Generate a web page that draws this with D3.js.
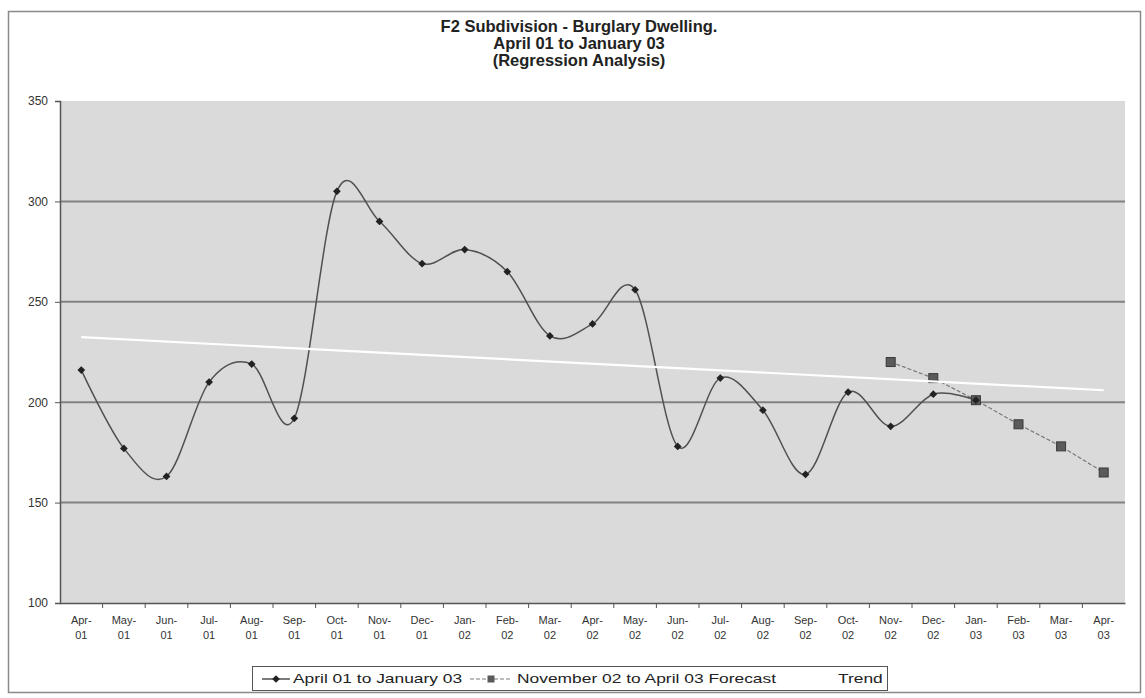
<!DOCTYPE html>
<html>
<head>
<meta charset="utf-8">
<script src="https://cdn.jsdelivr.net/npm/d3@7"></script>
<style>
  html, body { margin: 0; padding: 0; background: #fff; }
  svg { display: block; font-family: "Liberation Sans", Arial, sans-serif; }
</style>
</head>
<body>
<svg id="chart" width="1145" height="698"></svg>
<script>
// Monthly categories, April 2001 – April 2003
const categories = [
  "Apr-01","May-01","Jun-01","Jul-01","Aug-01","Sep-01","Oct-01","Nov-01","Dec-01",
  "Jan-02","Feb-02","Mar-02","Apr-02","May-02","Jun-02","Jul-02","Aug-02","Sep-02",
  "Oct-02","Nov-02","Dec-02","Jan-03","Feb-03","Mar-03","Apr-03"
];

// Recorded burglary dwelling offences, April 01 to January 03
const actualValues = [216,177,163,210,219,192,305,290,269,276,265,233,239,256,178,212,196,164,205,188,204,201];

// Forecast, November 02 to April 03
const forecastStart = "Nov-02";
const forecastValues = [220,212,201,189,178,165];

const yTicks = [100,150,200,250,300,350];

const titleLines = [
  "F2 Subdivision - Burglary Dwelling.",
  "April 01 to January 03",
  "(Regression Analysis)"
];
const legendLabels = ["April 01 to January 03", "November 02 to April 03 Forecast", "Trend"];

// ---------------------------------------------------------------
const svg = d3.select("#chart");
const plot = { left: 60, right: 1125, top: 101, bottom: 603 };
const FONT = "'Liberation Sans', Arial, sans-serif";

const x = d3.scaleBand().domain(categories).range([plot.left, plot.right]).padding(0);
const cx = c => x(c) + x.bandwidth() / 2;
const y = d3.scaleLinear().domain([100, 350]).range([plot.bottom, plot.top]);

// outer chart frame
svg.append("rect")
  .attr("x", 8.5).attr("y", 11.5)
  .attr("width", 1132).attr("height", 681)
  .attr("fill", "#fff").attr("stroke", "#8a8a8a").attr("stroke-width", 1.5);

// title
const title = svg.append("text")
  .attr("x", 579).attr("y", 32)
  .attr("text-anchor", "middle")
  .attr("font-size", 16.5).attr("font-weight", "bold").attr("fill", "#222");
titleLines.forEach((t, i) => {
  title.append("tspan").attr("x", 579).attr("dy", i === 0 ? 0 : 17).text(t);
});

// plot background
svg.append("rect")
  .attr("x", plot.left).attr("y", plot.top)
  .attr("width", plot.right - plot.left).attr("height", plot.bottom - plot.top)
  .attr("fill", "#dadada");

// horizontal gridlines
svg.append("g")
  .selectAll("line")
  .data(yTicks.filter(v => v > 100 && v < 350))
  .join("line")
  .attr("x1", plot.left).attr("x2", plot.right)
  .attr("y1", d => y(d)).attr("y2", d => y(d))
  .attr("stroke", "#828282").attr("stroke-width", 2);

// y axis
const yAxis = svg.append("g")
  .attr("transform", `translate(${plot.left},0)`)
  .call(d3.axisLeft(y).tickValues(yTicks).tickSize(5).tickPadding(7).tickFormat(d3.format("d")));
yAxis.select(".domain").attr("stroke", "#555").attr("stroke-width", 1.5);
yAxis.selectAll(".tick line").attr("stroke", "#555");
yAxis.selectAll(".tick text").attr("font-size", 12).attr("fill", "#333").attr("font-family", FONT);

// x axis: ticks between categories, two-line labels
const xAxis = svg.append("g")
  .attr("transform", `translate(0,${plot.bottom})`)
  .call(d3.axisBottom(x).tickSize(0).tickPadding(13));
xAxis.select(".domain").attr("stroke", "#555").attr("stroke-width", 1.5);
xAxis.selectAll(".tick text").each(function(d) {
  const [m, yr] = d.split("-");
  const t = d3.select(this).text(null)
    .attr("font-size", 11).attr("fill", "#333").attr("font-family", FONT);
  t.append("tspan").attr("x", 0).attr("dy", "0.71em").text(m + "-");
  t.append("tspan").attr("x", 0).attr("dy", "1.4em").text(yr);
});
xAxis.append("g").selectAll("line")
  .data(categories.slice(1))
  .join("line")
  .attr("x1", d => x(d)).attr("x2", d => x(d))
  .attr("y1", 0).attr("y2", 5)
  .attr("stroke", "#555");

// forecast series (dashed, square markers)
const forecastIdx = categories.indexOf(forecastStart);
const forecastPts = forecastValues.map((v, i) => ({ c: categories[forecastIdx + i], v }));
svg.append("path")
  .datum(forecastPts)
  .attr("fill", "none").attr("stroke", "#7a7a7a").attr("stroke-width", 1.2)
  .attr("stroke-dasharray", "4,2")
  .attr("d", d3.line().x(d => cx(d.c)).y(d => y(d.v)));

// actual series (smoothed)
const actualPts = actualValues.map((v, i) => ({ c: categories[i], v }));
svg.append("path")
  .datum(actualPts)
  .attr("fill", "none").attr("stroke", "#505050").attr("stroke-width", 1.5)
  .attr("d", d3.line().x(d => cx(d.c)).y(d => y(d.v)).curve(d3.curveCardinal.tension(0)));

svg.append("g").selectAll("rect")
  .data(forecastPts)
  .join("rect")
  .attr("x", d => cx(d.c) - 4.5).attr("y", d => y(d.v) - 4.5)
  .attr("width", 9).attr("height", 9)
  .attr("fill", "#5a5a5a").attr("stroke", "#3a3a3a").attr("stroke-width", 1);

// diamond marker: a square turned 45 degrees
const diamond = d3.symbol().type(d3.symbolSquare).size(30);
svg.append("g").selectAll("path")
  .data(actualPts)
  .join("path")
  .attr("transform", d => `translate(${cx(d.c)},${y(d.v)}) rotate(45)`)
  .attr("d", diamond)
  .attr("fill", "#222");

// linear trend fitted to the recorded series, extended over all months
const n = actualValues.length;
const xs = d3.range(n);
const mx = d3.mean(xs), my = d3.mean(actualValues);
const slope = d3.sum(xs, i => (i - mx) * (actualValues[i] - my)) / d3.sum(xs, i => (i - mx) ** 2);
const intercept = my - slope * mx;
const trendPts = [0, categories.length - 1].map(i => ({ c: categories[i], v: intercept + slope * i }));
svg.append("path")
  .datum(trendPts)
  .attr("fill", "none").attr("stroke", "#ffffff").attr("stroke-width", 2.2)
  .attr("d", d3.line().x(d => cx(d.c)).y(d => y(d.v)));

// legend (labels set wide, as in the original sheet)
const SX = 1.45;
const lg = svg.append("g").attr("font-size", 12).attr("fill", "#222").attr("font-family", FONT);
lg.append("rect")
  .attr("x", 252.5).attr("y", 666.5).attr("width", 635).attr("height", 24)
  .attr("fill", "#fff").attr("stroke", "#555").attr("stroke-width", 1);
const ly = 679;
const legendText = (x0, s) => lg.append("text")
  .attr("transform", `translate(${x0},${ly + 4}) scale(${SX},1)`).text(s);
lg.append("line").attr("x1", 262).attr("x2", 290).attr("y1", ly).attr("y2", ly)
  .attr("stroke", "#505050").attr("stroke-width", 1.5);
lg.append("path").attr("transform", `translate(276,${ly}) rotate(45)`).attr("d", diamond).attr("fill", "#222");
legendText(293, legendLabels[0]);
lg.append("line").attr("x1", 470).attr("x2", 512).attr("y1", ly).attr("y2", ly)
  .attr("stroke", "#7a7a7a").attr("stroke-width", 1.2).attr("stroke-dasharray", "4,2");
lg.append("rect").attr("x", 487.5).attr("y", ly - 3.5).attr("width", 7).attr("height", 7)
  .attr("fill", "#5a5a5a");
legendText(517, legendLabels[1]);
lg.append("line").attr("x1", 800).attr("x2", 834).attr("y1", ly).attr("y2", ly)
  .attr("stroke", "#ffffff").attr("stroke-width", 2.2);
legendText(838, legendLabels[2]);
</script>
</body>
</html>
